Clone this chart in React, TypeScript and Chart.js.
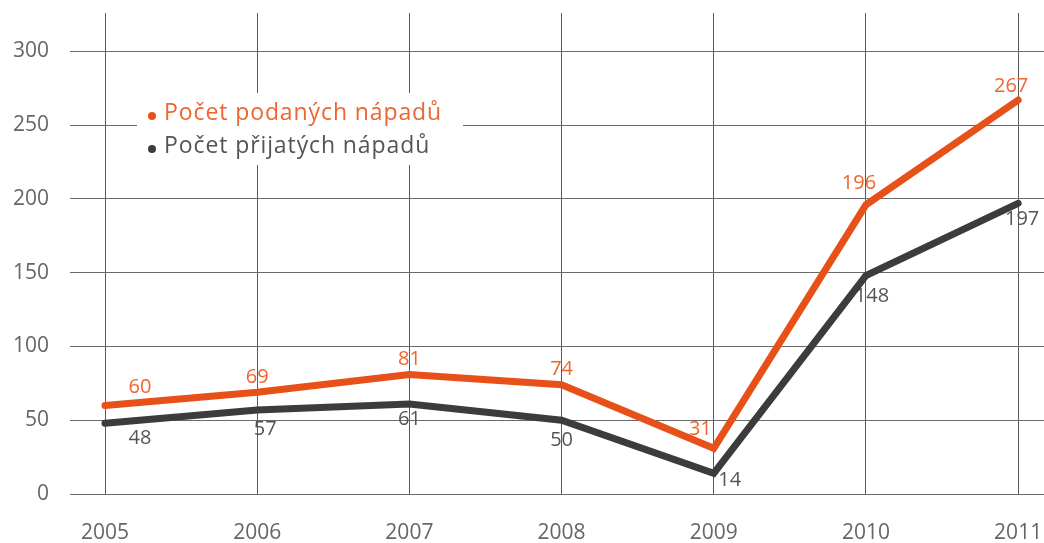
import React, { useEffect, useRef } from "react";
import { Chart, registerables } from "chart.js";

Chart.register(...registerables);

const years = [2005, 2006, 2007, 2008, 2009, 2010, 2011];
const submitted = [60, 69, 81, 74, 31, 196, 267];
const accepted = [48, 57, 61, 50, 14, 148, 197];
const seriesNames = ["Počet podaných nápadů", "Počet přijatých nápadů"];
const yTicks = [0, 50, 100, 150, 200, 250, 300];

const ORANGE = "#e8501a";
const ORANGE_TEXT = "#ee6530";
const DARK = "#3c3c3e";
const DARK_TEXT = "#555555";
const FONT = "'Open Sans', 'Noto Sans', sans-serif";

// label offsets (dx, dy, align) per dataset / point
const labelOffsets = [
  [[35, -18, "center"], [0, -15, "center"], [0, -15, "center"], [0, -16, "center"], [-2, -19, "right"], [-7, -22, "center"], [-7, -14, "center"]],
  [[35, 15, "center"], [8, 19, "center"], [0, 15, "center"], [0, 20, "center"], [16, 7, "center"], [6, 21, "center"], [4, 16, "center"]],
];

const labelPlugin = {
  id: "valueLabels",
  beforeDatasetsDraw(chart: any) {
    const ctx = chart.ctx;
    ctx.save();
    ctx.font = `20px ${FONT}`;
    ctx.textBaseline = "middle";
    chart.data.datasets.forEach((ds: any, di: number) => {
      const meta = chart.getDatasetMeta(di);
      ctx.fillStyle = di === 0 ? ORANGE_TEXT : DARK_TEXT;
      meta.data.forEach((pt: any, i: number) => {
        const [dx, dy, align] = labelOffsets[di][i] as any;
        ctx.textAlign = align;
        ctx.fillText(String(ds.data[i].y), pt.x + dx, pt.y + dy);
      });
    });
    ctx.restore();
  },
};

const legendPlugin = {
  id: "boxLegend",
  beforeDatasetsDraw(chart: any) {
    const ctx = chart.ctx;
    ctx.save();
    ctx.fillStyle = "#ffffff";
    ctx.fillRect(137, 93, 326, 72);
    ctx.font = `23px ${FONT}`;
    (ctx as any).letterSpacing = "0.9px";
    ctx.textBaseline = "middle";
    ctx.textAlign = "left";
    const colors = [ORANGE, DARK];
    const textColors = [ORANGE_TEXT, DARK_TEXT];
    seriesNames.forEach((name, i) => {
      const y = 113 + i * 33;
      ctx.fillStyle = colors[i];
      ctx.beginPath();
      ctx.arc(152, y + 3, 4, 0, Math.PI * 2);
      ctx.fill();
      ctx.fillStyle = textColors[i];
      ctx.fillText(name, 164, y);
    });
    ctx.restore();
  },
};

const zeroPad = (s: any) => {
  s.paddingLeft = 0;
  s.paddingRight = 0;
  s.paddingTop = 0;
  s.paddingBottom = 0;
};

export default function App() {
  const ref = useRef<HTMLCanvasElement>(null);
  useEffect(() => {
    if (!ref.current) return;
    const chart = new Chart(ref.current, {
      type: "line",
      data: {
        datasets: [
          {
            label: seriesNames[0],
            data: years.map((y, i) => ({ x: y, y: submitted[i] })),
            borderColor: ORANGE,
            backgroundColor: ORANGE,
            borderWidth: 7,
            pointRadius: 0,
            borderCapStyle: "round",
            borderJoinStyle: "miter",
            tension: 0,
          },
          {
            label: seriesNames[1],
            data: years.map((y, i) => ({ x: y, y: accepted[i] })),
            borderColor: DARK,
            backgroundColor: DARK,
            borderWidth: 7,
            pointRadius: 0,
            borderCapStyle: "round",
            borderJoinStyle: "miter",
            tension: 0,
          },
        ],
      },
      options: {
        animation: false,
        responsive: false,
        layout: { padding: { top: 13, right: 0, left: 0, bottom: 0 } },
        plugins: { legend: { display: false }, tooltip: { enabled: false } },
        scales: {
          x: {
            type: "linear",
            min: 2004.77,
            max: 2011.17,
            afterBuildTicks: (s: any) => {
              s.ticks = years.map((v) => ({ value: v }));
            },
            afterFit: (s: any) => {
              s.height = 49;
              zeroPad(s);
            },
            grid: { color: "#5a5a5a", lineWidth: 1, drawTicks: false },
            border: { display: false },
            ticks: {
              callback: (v: any) => String(v),
              color: "#666666",
              font: { family: FONT, size: 21 },
              padding: 26,
              maxRotation: 0,
            },
          },
          y: {
            min: 0,
            max: 326,
            afterBuildTicks: (s: any) => {
              s.ticks = yTicks.map((v) => ({ value: v }));
            },
            afterFit: (s: any) => {
              s.width = 70;
              zeroPad(s);
            },
            grid: { color: "#6a6a6a", lineWidth: 1, drawTicks: false },
            border: { display: false },
            ticks: {
              color: "#666666",
              font: { family: FONT, size: 21 },
              padding: 21,
            },
          },
        },
      },
      plugins: [legendPlugin, labelPlugin],
    } as any);
    return () => chart.destroy();
  }, []);
  return (
    <div style={{ position: "fixed", left: 0, top: 0, width: 1044, height: 543, background: "#fff" }}>
      <canvas ref={ref} width={1044} height={543} style={{ width: 1044, height: 543, display: "block" }} />
    </div>
  );
}
